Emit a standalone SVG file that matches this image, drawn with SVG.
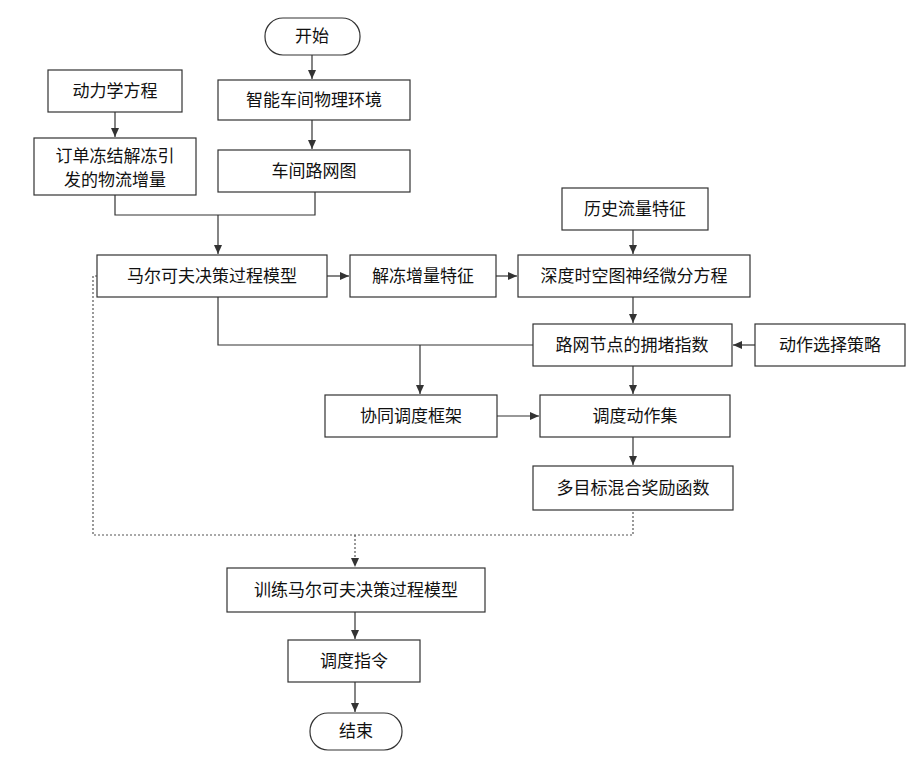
<svg xmlns="http://www.w3.org/2000/svg" width="923" height="763" viewBox="0 0 923 763">
<style>
.b{fill:#fff;stroke:#333;stroke-width:1.2}
.t{font-family:"Liberation Serif","Noto Sans CJK SC",serif;font-size:17px;fill:#111;text-anchor:middle;dominant-baseline:central}
.c{fill:none;stroke:#333;stroke-width:1.2}
.d{fill:none;stroke:#555;stroke-width:1.2;stroke-dasharray:2 2}
</style>
<defs><marker id="a" markerWidth="10" markerHeight="10" refX="9" refY="5" orient="auto" markerUnits="userSpaceOnUse"><path d="M0,1 L9,5 L0,9 z" fill="#333"/></marker></defs>
<rect width="923" height="763" fill="#fff"/>
<g id="connectors">
<path class="c" d="M312,55 V79" marker-end="url(#a)"/>
<path class="c" d="M312,120 V149" marker-end="url(#a)"/>
<path class="c" d="M115,112 V137" marker-end="url(#a)"/>
<path class="c" d="M115,195 V215 H315 V192"/>
<path class="c" d="M218,215 V254" marker-end="url(#a)"/>
<path class="c" d="M327,276 H349" marker-end="url(#a)"/>
<path class="c" d="M496,276 H517" marker-end="url(#a)"/>
<path class="c" d="M633,230 V254" marker-end="url(#a)"/>
<path class="c" d="M633,297 V323" marker-end="url(#a)"/>
<path class="c" d="M755,345 H733" marker-end="url(#a)"/>
<path class="c" d="M218,297 V345 H533"/>
<path class="c" d="M420,345 V394" marker-end="url(#a)"/>
<path class="c" d="M633,366 V394" marker-end="url(#a)"/>
<path class="c" d="M497,416 H539" marker-end="url(#a)"/>
<path class="c" d="M633,437 V465" marker-end="url(#a)"/>
<path class="d" d="M97,276 H93 V535 H633 V510"/>
<path class="d" d="M355,535 V567" marker-end="url(#a)"/>
<path class="c" d="M355,612 V639" marker-end="url(#a)"/>
<path class="c" d="M355,682 V712" marker-end="url(#a)"/>
</g>
<g id="start"><rect class="b" x="265" y="18" width="95" height="37" rx="18"/><text class="t" x="312" y="36">开始</text></g>
<g id="n1"><rect class="b" x="48" y="70" width="134" height="42"/><text class="t" x="115" y="91">动力学方程</text></g>
<g id="n2"><rect class="b" x="218" y="80" width="192" height="40"/><text class="t" x="314" y="100">智能车间物理环境</text></g>
<g id="n3"><rect class="b" x="34" y="138" width="162" height="57"/><text class="t" x="115" y="156">订单冻结解冻引</text><text class="t" x="115" y="180">发的物流增量</text></g>
<g id="n4"><rect class="b" x="218" y="150" width="192" height="42"/><text class="t" x="314" y="171">车间路网图</text></g>
<g id="n5"><rect class="b" x="562" y="188" width="146" height="42"/><text class="t" x="635" y="209">历史流量特征</text></g>
<g id="n6"><rect class="b" x="97" y="255" width="230" height="42"/><text class="t" x="212" y="276">马尔可夫决策过程模型</text></g>
<g id="n7"><rect class="b" x="350" y="255" width="146" height="42"/><text class="t" x="423" y="276">解冻增量特征</text></g>
<g id="n8"><rect class="b" x="518" y="255" width="232" height="42"/><text class="t" x="634" y="276">深度时空图神经微分方程</text></g>
<g id="n9"><rect class="b" x="533" y="324" width="199" height="42"/><text class="t" x="632" y="345">路网节点的拥堵指数</text></g>
<g id="n10"><rect class="b" x="755" y="324" width="150" height="42"/><text class="t" x="830" y="345">动作选择策略</text></g>
<g id="n11"><rect class="b" x="325" y="395" width="172" height="42"/><text class="t" x="411" y="416">协同调度框架</text></g>
<g id="n12"><rect class="b" x="540" y="395" width="190" height="42"/><text class="t" x="635" y="416">调度动作集</text></g>
<g id="n13"><rect class="b" x="533" y="466" width="200" height="44"/><text class="t" x="633" y="488">多目标混合奖励函数</text></g>
<g id="n14"><rect class="b" x="227" y="568" width="258" height="44"/><text class="t" x="356" y="590">训练马尔可夫决策过程模型</text></g>
<g id="n15"><rect class="b" x="288" y="640" width="132" height="42"/><text class="t" x="354" y="661">调度指令</text></g>
<g id="end"><rect class="b" x="310" y="713" width="92" height="37" rx="18"/><text class="t" x="356" y="731">结束</text></g>
</svg>
